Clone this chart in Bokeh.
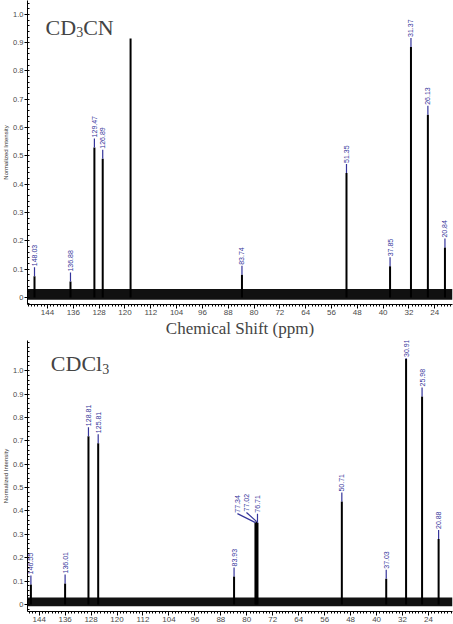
import math
from bokeh.plotting import figure
from bokeh.layouts import column
from bokeh.models import FixedTicker, Label, Range1d, ColumnDataSource
from bokeh.core.properties import value
from bokeh.embed import file_html
from bokeh.resources import INLINE

# ---------------- data ----------------
cd3cn_ppm = [148.03, 136.88, 129.47, 126.89, 118.26, 83.74, 51.35, 37.85, 31.37, 26.13, 20.84]
cd3cn_intensity = [0.075, 0.056, 0.53, 0.49, 0.915, 0.08, 0.44, 0.11, 0.885, 0.645, 0.176]
cd3cn_labels = ["148.03", "136.88", "129.47", "126.89", "", "83.74", "51.35", "37.85",
                "31.37", "26.13", "20.84"]
cd3cn_noise = [-0.008, 0.03]          # baseline noise band (low, high)

cdcl3_ppm = [146.55, 136.01, 128.81, 125.81, 83.93, 77.34, 77.02, 76.71, 50.71, 37.03,
             30.91, 25.98, 20.88]
cdcl3_intensity = [0.086, 0.09, 0.72, 0.69, 0.12, 0.35, 0.355, 0.35, 0.44, 0.11,
                   1.05, 0.89, 0.28]
cdcl3_labels = ["146.55", "136.01", "128.81", "125.81", "83.93", "77.34", "77.02", "76.71",
                "50.71", "37.03", "30.91", "25.98", "20.88"]
cdcl3_noise = [-0.008, 0.03]

x_tick_values = [144, 136, 128, 120, 112, 104, 96, 88, 80, 72, 64, 56, 48, 40, 32, 24]
y_tick_values = [0, 0.1, 0.2, 0.3, 0.4, 0.5, 0.6, 0.7, 0.8, 0.9, 1.0]

# ---------------- style ----------------
BLUE = "#34349a"
TICK_COLOR = "#4a4a4a"
SANS = "Liberation Sans"
SERIF = "Liberation Serif"
WIDTH = 453
LABEL_SHIFT = {"77.34": -18, "77.02": -10}   # screen-pixel fan-out for crowded labels
LABEL_LIFT = 10
LIFT_EXCEPT = {"30.91": 2}


def title_parts_width(s):
    em = {"C": 0.667, "D": 0.722, "N": 0.722, "l": 0.278}
    return sum(em.get(c, 0.5) for c in s) * 22


def make_panel(ppm, inten, labels, noise, x_rng, y_rng, height, title_parts, title_pos,
               xlabel):
    p = figure(width=WIDTH, height=height, output_backend="svg", toolbar_location=None,
               x_range=Range1d(*x_rng), y_range=Range1d(*y_rng),
               min_border_left=0, min_border_right=1, min_border_top=0, min_border_bottom=0)
    p.outline_line_color = None
    p.xgrid.visible = False
    p.ygrid.visible = False

    # baseline noise band
    p.varea(x=[x_rng[0], x_rng[1]], y1=[noise[0]] * 2, y2=[noise[1]] * 2,
            fill_color="#111111", fill_alpha=1.0)

    # peaks
    p.segment(x0=ppm, y0=[0.0] * len(ppm), x1=ppm, y1=inten, line_color="black",
              line_width=2)

    # peak labels
    lx, ly, lt, xo, yo, rl, ra = [], [], [], [], [], [], []
    for x, y, t in zip(ppm, inten, labels):
        if not t:
            continue
        dx = LABEL_SHIFT.get(t, 0)
        lift = LIFT_EXCEPT.get(t, LABEL_LIFT)
        rise = max(lift - 1, 1)
        lx.append(x)
        ly.append(y)
        lt.append(t)
        xo.append(dx)
        yo.append(-lift)
        rl.append(math.hypot(dx, rise))
        ra.append(math.atan2(rise, dx))
    src = ColumnDataSource(dict(x=lx, y=ly, text=lt, xo=xo, yo=yo, rl=rl, ra=ra))
    p.ray(x="x", y="y", length="rl", angle="ra", length_units="screen", source=src,
          line_color=BLUE, line_width=1.2)
    p.text(x="x", y="y", text="text", x_offset="xo", y_offset="yo", angle=math.pi / 2,
           text_align="left", text_baseline="middle", text_font_size="7px",
           text_color=BLUE, text_font=value(SANS), source=src)

    # axes
    xa = p.xaxis[0]
    xa.ticker = FixedTicker(ticks=x_tick_values, minor_ticks=list(range(15, 152)))
    xa.major_tick_out = 4
    xa.major_tick_in = 0
    xa.minor_tick_out = 2
    xa.minor_tick_in = 0
    xa.major_label_standoff = 1
    xa.major_label_text_font = SANS
    xa.major_label_text_font_size = "8px"
    xa.major_label_text_color = TICK_COLOR
    xa.axis_line_color = "black"
    if xlabel:
        xa.axis_label = xlabel
        xa.axis_label_text_font = SERIF
        xa.axis_label_text_font_size = "17px"
        xa.axis_label_text_font_style = "normal"
        xa.axis_label_standoff = 1

    ya = p.yaxis[0]
    ya.ticker = FixedTicker(ticks=y_tick_values,
                            minor_ticks=[i / 50 for i in range(-2, 58)])
    ya.major_label_overrides = {0: "0", 1: "1.0"}
    ya.major_tick_out = 3
    ya.major_tick_in = 0
    ya.minor_tick_in = 2
    ya.minor_tick_out = 0
    ya.major_label_standoff = 1
    ya.major_label_text_font = SANS
    ya.major_label_text_font_size = "7.5px"
    ya.major_label_text_color = TICK_COLOR
    ya.axis_label = "Normalized Intensity"
    ya.axis_label_text_font = SANS
    ya.axis_label_text_font_size = "6px"
    ya.axis_label_text_font_style = "normal"
    ya.axis_label_text_color = "#333333"
    ya.axis_label_standoff = 1

    # panel title with subscript
    tx, ty = title_pos
    main1, sub, main2 = title_parts
    w1 = title_parts_width(main1)
    p.add_layout(Label(x=tx, y=ty, text=main1, text_font=SERIF, text_font_size="22px",
                       text_baseline="alphabetic"))
    p.add_layout(Label(x=tx, y=ty, x_offset=w1, y_offset=-5, text=sub, text_font=SERIF,
                       text_font_size="14px", text_baseline="alphabetic"))
    if main2:
        p.add_layout(Label(x=tx, y=ty, x_offset=w1 + 7, text=main2, text_font=SERIF,
                           text_font_size="22px", text_baseline="alphabetic"))
    return p


p1 = make_panel(cd3cn_ppm, cd3cn_intensity, cd3cn_labels, cd3cn_noise,
                (150.2, 18.5), (-0.025, 1.049), 340, ("CD", "3", "CN"), (144.6, 0.954),
                "Chemical Shift (ppm)")
p2 = make_panel(cdcl3_ppm, cdcl3_intensity, cdcl3_labels, cdcl3_noise,
                (147.6, 16.6), (-0.03, 1.129), 284, ("CDCl", "3", ""), (140.4, 1.03),
                None)

layout = column(p1, p2, spacing=0)
open("out.html", "w").write(file_html(layout, INLINE))
